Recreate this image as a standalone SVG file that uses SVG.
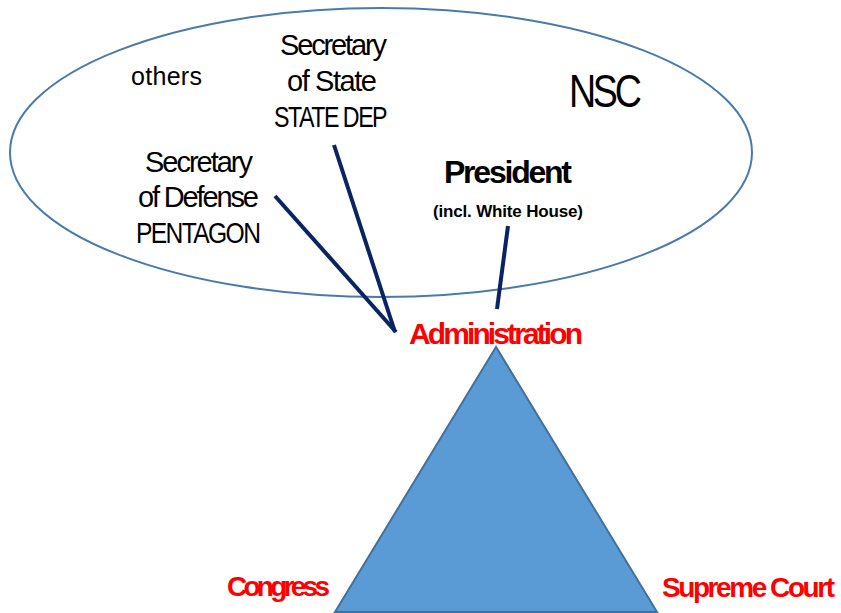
<svg xmlns="http://www.w3.org/2000/svg" width="841" height="613" viewBox="0 0 841 613">
  <style>
    .t { font-family: "Liberation Sans", Arial, sans-serif; fill: #000; }
    .b { font-weight: bold; }
    .red { fill: #ff0000; font-family: "Liberation Sans", Arial, sans-serif; font-weight: bold; }
    .conn { stroke: #0a2463; stroke-width: 4; fill: none; stroke-linecap: butt; }
  </style>
  <rect width="841" height="613" fill="#ffffff"/>
  <g id="nsc">
    <ellipse cx="381" cy="152.5" rx="371" ry="144.5" fill="#ffffff" stroke="#4a7aac" stroke-width="2"/>
    <text class="t" transform="translate(569,107) scale(0.8,1)" x="0" y="0" font-size="47" textLength="91">NSC</text>
  </g>
  <g id="others">
    <text class="t" x="131" y="85" font-size="25" textLength="71">others</text>
  </g>
  <g id="secstate">
    <text class="t" x="280" y="55" font-size="29" textLength="107">Secretary</text>
    <text class="t" x="287" y="91" font-size="29" textLength="90">of State</text>
    <text class="t" transform="translate(274,127) scale(0.8,1)" x="0" y="0" font-size="29" textLength="142">STATE DEP</text>
  </g>
  <g id="secdef">
    <text class="t" x="145" y="172" font-size="29" textLength="108">Secretary</text>
    <text class="t" x="138" y="207" font-size="29" textLength="121">of Defense</text>
    <text class="t" transform="translate(136,243) scale(0.85,1)" x="0" y="0" font-size="29" textLength="147">PENTAGON</text>
  </g>
  <g id="president">
    <text class="t b" x="444" y="183" font-size="32" textLength="128">President</text>
    <text class="t b" x="433" y="217" font-size="17" textLength="150">(incl. White House)</text>
  </g>
  <g id="connectors">
    <line class="conn" x1="275" y1="196" x2="396" y2="332"/>
    <line class="conn" x1="334" y1="145" x2="395" y2="332"/>
    <line class="conn" x1="508" y1="226" x2="497" y2="309"/>
  </g>
  <g id="triangle">
    <polygon points="496,347 335,612 657,612" fill="#5b9bd5" stroke="#41719c" stroke-width="2"/>
  </g>
  <g id="administration">
    <text class="red" x="409" y="344" font-size="30" textLength="174">Administration</text>
  </g>
  <g id="congress">
    <text class="red" x="227" y="596" font-size="28" textLength="103">Congress</text>
  </g>
  <g id="supremecourt">
    <text class="red" x="662" y="597" font-size="28" textLength="173">Supreme Court</text>
  </g>
</svg>
